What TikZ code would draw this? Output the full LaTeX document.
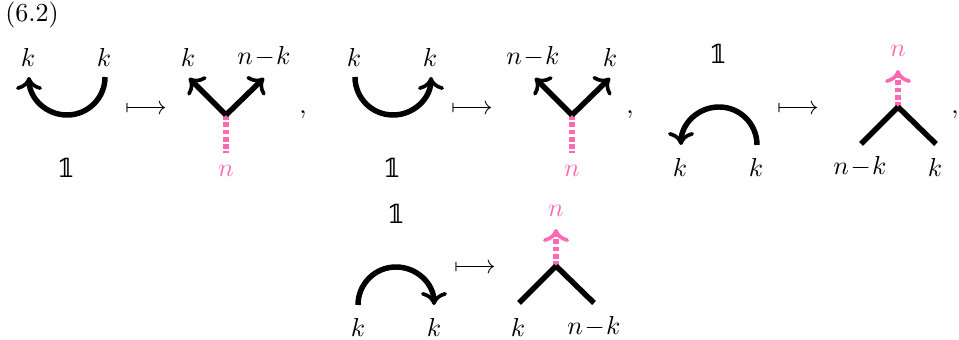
\documentclass[tikz,border=0pt]{standalone}
\usepackage{amsmath}
\usepackage{amssymb}
\usepackage{fontspec}
\usetikzlibrary{arrows.meta}
\newfontfamily\onefont{DejaVu Serif}
\definecolor{webpink}{HTML}{FF69B4}
\newcommand{\unitone}{{\onefont 𝟙}}
\newcommand{\nmk}{$n\!-\!k$}
\tikzset{
    >={Computer Modern Rightarrow[length=5pt,width=10pt,line width=1.4pt]},
    web/.style={line width=2.1pt},
    pinkweb/.style={line width=2.1pt, webpink, dash pattern=on 1.8pt off 1pt},
    pinklabel/.style={text=webpink},
}

\begin{document}
\begin{tikzpicture}[x=0.3846pt, y=-0.3846pt]
    \useasboundingbox (0,0) rectangle (959,340);
    \node (eqno) at (32,15) {(6.2)};

    % first cup
    \coordinate (capL) at (29,77);
    \coordinate (capB) at (67,115);
    \coordinate (capR) at (105,77);
    \draw[web] (capR) to[out=-90,in=0] (capB);
    \draw[web,->] (capB) to[out=180,in=-90] (capL);
    \node (capLk) at (28,57) {$k$};
    \node (capRk) at (104,57) {$k$};
    \node (capOne) at (66,168) {\unitone};
    \node (capMap) at (146,110) {$\longmapsto$};

    % first split
    \coordinate (splitC) at (226,115);
    \coordinate (splitL) at (189,78);
    \coordinate (splitR) at (264,78);
    \coordinate (splitD) at (226,153);
    \draw[pinkweb] (splitC) -- (splitD);
    \draw[web,->] (splitC) -- (splitL);
    \draw[web,->] (splitC) -- (splitR);
    \node (splitLk) at (188,57) {$k$};
    \node (splitRk) at (264,57) {\nmk};
    \node[pinklabel] (splitN) at (226,171) {$n$};
    \node (commaA) at (303,115) {$,$};

    % second cup
    \coordinate (cupL) at (355,77);
    \coordinate (cupB) at (393,115);
    \coordinate (cupR) at (431,77);
    \draw[web] (cupL) to[out=-90,in=180] (cupB);
    \draw[web,->] (cupB) to[out=0,in=-90] (cupR);
    \node (cupLk) at (354,57) {$k$};
    \node (cupRk) at (430,57) {$k$};
    \node (cupOne) at (392,168) {\unitone};
    \node (cupMap) at (472,110) {$\longmapsto$};

    % second split
    \coordinate (forkC) at (572,115);
    \coordinate (forkL) at (535,78);
    \coordinate (forkR) at (610,78);
    \coordinate (forkD) at (572,153);
    \draw[pinkweb] (forkC) -- (forkD);
    \draw[web,->] (forkC) -- (forkL);
    \draw[web,->] (forkC) -- (forkR);
    \node (forkLk) at (533,57) {\nmk};
    \node (forkRk) at (610,57) {$k$};
    \node[pinklabel] (forkN) at (572,171) {$n$};
    \node (commaB) at (630,115) {$,$};

    % first cap
    \coordinate (archL) at (681,145);
    \coordinate (archT) at (719,107);
    \coordinate (archR) at (757,145);
    \draw[web] (archR) to[out=90,in=0] (archT);
    \draw[web,->] (archT) to[out=180,in=90] (archL);
    \node (archLk) at (680,167) {$k$};
    \node (archRk) at (756,167) {$k$};
    \node (archOne) at (718,54) {\unitone};
    \node (archMap) at (798,110) {$\longmapsto$};

    % first merge
    \coordinate (mergeC) at (898,107);
    \coordinate (mergeL) at (861,144);
    \coordinate (mergeR) at (936,144);
    \coordinate (mergeU) at (898,70);
    \draw[pinkweb,->] (mergeC) -- (mergeU);
    \draw[web] (mergeC) -- (mergeL);
    \draw[web] (mergeC) -- (mergeR);
    \node[pinklabel] (mergeN) at (898,51) {$n$};
    \node (mergeLk) at (860,167) {\nmk};
    \node (mergeRk) at (935,167) {$k$};
    \node (commaC) at (955,115) {$,$};

    % second cap
    \coordinate (bowL) at (358,305);
    \coordinate (bowT) at (396,267);
    \coordinate (bowR) at (434,305);
    \draw[web] (bowL) to[out=90,in=180] (bowT);
    \draw[web,->] (bowT) to[out=0,in=90] (bowR);
    \node (bowLk) at (358,327) {$k$};
    \node (bowRk) at (434,327) {$k$};
    \node (bowOne) at (396,214) {\unitone};
    \node (bowMap) at (475,269) {$\longmapsto$};

    % second merge
    \coordinate (joinC) at (556,266);
    \coordinate (joinL) at (519,303);
    \coordinate (joinR) at (594,303);
    \coordinate (joinU) at (556,229);
    \draw[pinkweb,->] (joinC) -- (joinU);
    \draw[web] (joinC) -- (joinL);
    \draw[web] (joinC) -- (joinR);
    \node[pinklabel] (joinN) at (556,211) {$n$};
    \node (joinLk) at (518,327) {$k$};
    \node (joinRk) at (594,327) {\nmk};
\end{tikzpicture}
\end{document}
